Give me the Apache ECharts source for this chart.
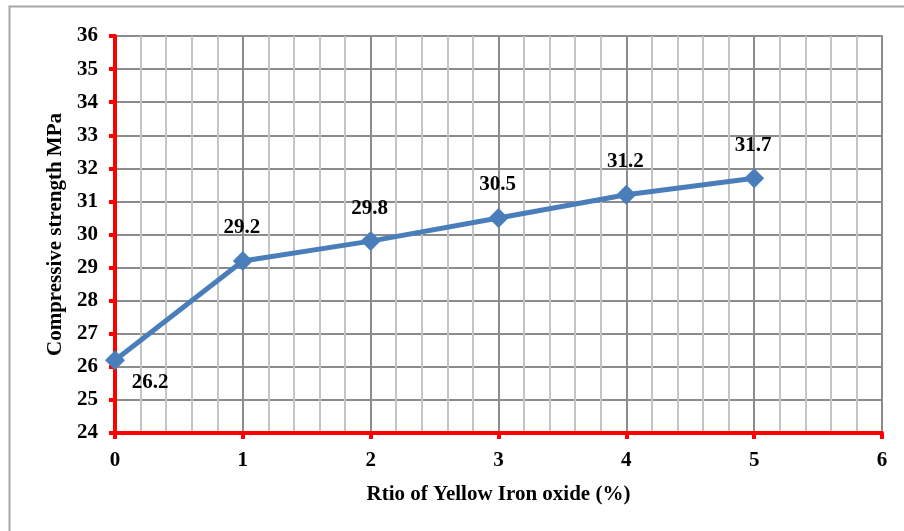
<!DOCTYPE html>
<html>
<head>
<meta charset="utf-8">
<script src="https://cdn.jsdelivr.net/npm/echarts@6/dist/echarts.min.js"></script>
<style>html,body{margin:0;padding:0;background:#fff}#c{width:904px;height:531px}</style>
</head>
<body>
<div id="c"></div>
<script>
const ratios = [0, 1, 2, 3, 4, 5];
const strength = [26.2, 29.2, 29.8, 30.5, 31.2, 31.7];
const xTitle = 'Rtio of Yellow Iron oxide (%)';
const yTitle = 'Compressive strength MPa';

const font = 'Liberation Serif, Times New Roman, serif';
const FS = 21;
const data = ratios.map((r, i) => ({
  value: [r, strength[i]],
  label: i === 0 ? { offset: [35, 22] } : undefined
}));

const chart = echarts.init(document.getElementById('c'), null, { renderer: 'canvas' });
chart.setOption({
  animation: false,
  backgroundColor: '#fff',
  graphic: [{
    type: 'rect', shape: { x: 9.5, y: 6.5, width: 1000, height: 1000 },
    style: { fill: 'none', stroke: '#a6a6a6', lineWidth: 2 }, silent: true
  }],
  grid: { left: 115, right: 22, top: 36, bottom: 98, show: true, borderColor: '#4F81BD', borderWidth: 1.5, backgroundColor: 'transparent' },
  xAxis: {
    type: 'value', min: 0, max: 6, interval: 1,
    name: xTitle, nameLocation: 'middle', nameGap: 51,
    nameTextStyle: { fontFamily: font, fontWeight: 'bold', fontSize: FS, color: '#000' },
    axisLine: { show: true, lineStyle: { color: '#ff0000', width: 4 } },
    axisTick: { show: true, length: 6, lineStyle: { color: '#ff0000', width: 4 } },
    axisLabel: { fontFamily: font, fontWeight: 'bold', fontSize: FS, color: '#000', margin: 17 },
    splitLine: { show: true, lineStyle: { color: '#8c8c8c', width: 2 } },
    minorTick: { show: false, splitNumber: 5 },
    minorSplitLine: { show: true, lineStyle: { color: '#c4c4c4', width: 2 } }
  },
  yAxis: {
    type: 'value', min: 24, max: 36, interval: 1,
    name: yTitle, nameLocation: 'middle', nameGap: 46, nameRotate: 90,
    nameTextStyle: { fontFamily: font, fontWeight: 'bold', fontSize: FS, color: '#000' },
    axisLine: { show: true, lineStyle: { color: '#ff0000', width: 4 } },
    axisTick: { show: true, length: 6, lineStyle: { color: '#ff0000', width: 4 } },
    axisLabel: { fontFamily: font, fontWeight: 'bold', fontSize: FS, color: '#000', margin: 17 },
    splitLine: { show: true, lineStyle: { color: '#8c8c8c', width: 2 } }
  },
  series: [{
    type: 'line',
    data: data,
    symbol: 'diamond', symbolSize: 20,
    lineStyle: { color: '#4A7EBB', width: 5 },
    itemStyle: { color: '#4A7EBB' },
    label: { show: true, position: 'inside', offset: [-1, -33], fontFamily: font, fontWeight: 'bold', fontSize: FS, color: '#000',
      formatter: p => p.value[1].toFixed(1) },
    z: 5
  }]
});
</script>
</body>
</html>
